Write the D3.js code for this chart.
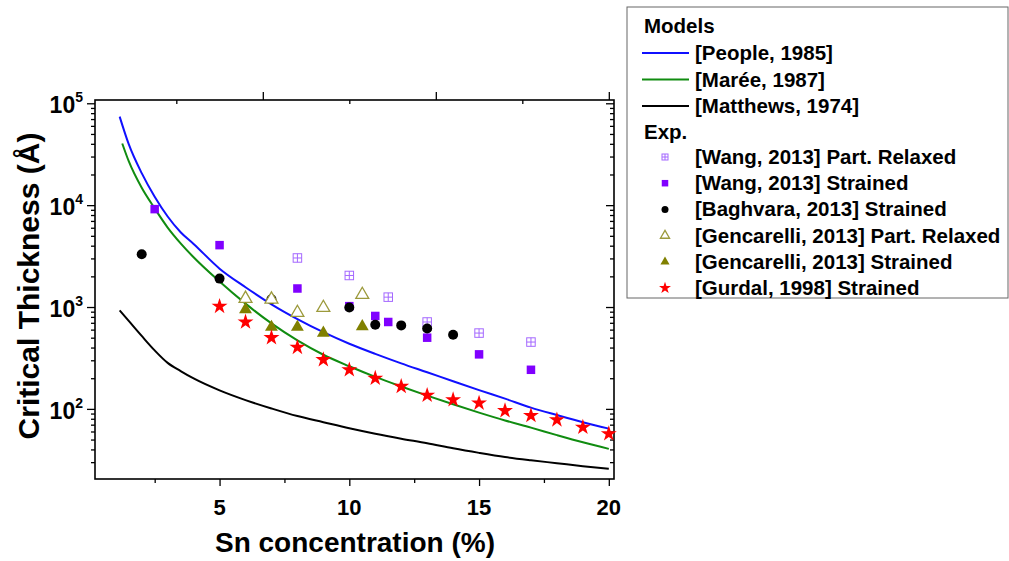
<!DOCTYPE html>
<html lang="en">
<head>
  <meta charset="UTF-8">
  <title>Critical thickness vs Sn</title>
  <script src="https://cdn.jsdelivr.net/npm/d3@7"></script>
</head>
<body style="margin:0; background:#fff;">
<script>
  // model curves
  const xModel = [1.15, 1.5, 2, 2.5, 3, 3.5, 4, 5, 6, 7, 8, 9, 10, 11, 12, 13, 14, 15, 16, 17, 18, 19, 20]
  const xMaree = [1.25, 1.5, 2, 2.5, 3, 3.5, 4, 5, 6, 7, 8, 9, 10, 11, 12, 13, 14, 15, 16, 17, 18, 19, 20]
  const people = [74000, 39700, 20600, 12100, 7740, 5420, 4160, 2380, 1565, 1063, 761, 566, 436, 347, 280, 229, 187, 153, 126, 103, 87, 74, 64]
  const maree = [40300, 27000, 14800, 9300, 6030, 4220, 3080, 1780, 1080, 690, 470, 340, 262, 206, 166, 135, 111, 92, 77, 65.5, 55.3, 47, 40.5]
  const matthews = [925, 730, 520, 375, 283, 235, 199, 152, 122, 101, 85, 74, 64.5, 57, 51, 46, 41, 37, 33.7, 31.3, 29.3, 27.4, 25.8]

  // experimental points
  const wangRelaxX = [8, 10, 11.5, 13, 15, 17]
  const wangRelaxY = [3030, 2040, 1250, 713, 555, 453]
  const wangStrX = [2.5, 5, 8, 10, 11, 11.5, 13, 15, 17]
  const wangStrY = [9140, 4050, 1520, 1020, 817, 713, 500, 343, 242]
  const baghX = [2, 5, 7, 10, 11, 12, 13, 14]
  const baghY = [3300, 1900, 1190, 990, 670, 660, 615, 535]
  const gencRelaxX = [6, 7, 8, 9, 10.5]
  const gencRelaxY = [1210, 1190, 880, 985, 1320]
  const gencStrX = [6, 7, 8, 9, 10.5]
  const gencStrY = [945, 635, 635, 555, 645]
  const gurdalX = [5, 6, 7, 8, 9, 10, 11, 12, 13, 14, 15, 16, 17, 18, 19, 20]
  const gurdalY = [1015, 713, 500, 402, 304, 242, 200, 166, 136, 123, 114, 96, 86, 78, 66, 57]

  const xTicks = [5, 10, 15, 20]
  const xMinor = [2.5, 7.5, 12.5, 17.5]
  const topMajor = [20 / 3, 40 / 3, 20]
  const topMinor = [10 / 3, 10, 50 / 3]
  const yDecades = [2, 3, 4, 5]

  const width = 1009, height = 561
  const font = "'Liberation Sans', Arial, sans-serif"

  const x = d3.scaleLinear().domain([0.2, 20.2]).range([95, 614])
  const y = d3.scaleLog().domain([20.5, 107700]).range([479, 100])

  const svg = d3.select("body").append("svg")
    .attr("width", width).attr("height", height)
    .style("font-family", font)

  // minor log ticks
  const yMinor = []
  for (let e = 1; e <= 5; e++) for (let m = 2; m <= 9; m++) {
    const v = m * Math.pow(10, e)
    if (v >= 20.5 && v <= 107700) yMinor.push(v)
  }
  const yMajor = yDecades.map(e => Math.pow(10, e))

  const addAxis = (axis, tx, ty, values, size) => {
    svg.append("g").attr("transform", `translate(${tx},${ty})`)
      .call(axis.tickValues(values).tickSize(size).tickFormat(""))
      .call(g => g.select(".domain").remove())
  }
  // left axis (outward) and right axis (inward)
  addAxis(d3.axisLeft(y), 95, 0, yMinor, 4)
  addAxis(d3.axisLeft(y), 95, 0, yMajor, 8)
  addAxis(d3.axisLeft(y), 614, 0, yMinor, 4)
  addAxis(d3.axisLeft(y), 614, 0, yMajor, 8)
  // bottom and top
  addAxis(d3.axisBottom(x), 0, 479, xMinor, 4)
  addAxis(d3.axisBottom(x), 0, 479, xTicks, 7)
  addAxis(d3.axisTop(x), 0, 100, topMajor, 8)
  addAxis(d3.axisBottom(x), 0, 100, topMinor, 4)
  svg.selectAll(".tick line").attr("stroke", "#000").attr("stroke-width", 1.3)

  // frame
  svg.append("rect").attr("x", 95).attr("y", 100).attr("width", 519).attr("height", 379)
    .attr("fill", "none").attr("stroke", "#000").attr("stroke-width", 1.6)

  // tick labels
  svg.append("g").selectAll("text").data(xTicks).join("text")
    .attr("x", d => x(d)).attr("y", 515)
    .attr("text-anchor", "middle").attr("font-size", 22).attr("font-weight", "bold")
    .text(d => d)

  const yl = svg.append("g").selectAll("text").data(yDecades).join("text")
    .attr("x", 83).attr("y", d => y(Math.pow(10, d)) + 10)
    .attr("text-anchor", "end").attr("font-size", 23).attr("font-weight", "bold")
  yl.append("tspan").text("10")
  yl.append("tspan").attr("dy", -11).attr("font-size", 14).text(d => d)

  // axis titles
  svg.append("text").attr("x", 355).attr("y", 552).attr("text-anchor", "middle")
    .attr("font-size", 28).attr("font-weight", "bold").text("Sn concentration (%)")
  svg.append("text").attr("transform", "translate(39,286) rotate(-90)").attr("text-anchor", "middle")
    .attr("font-size", 30).attr("font-weight", "bold").text("Critical Thickness (Å)")

  // curves
  const line = d3.line().x(d => x(d[0])).y(d => y(d[1])).curve(d3.curveMonotoneX)
  const models = [
    { xs: xModel, ys: people, color: "#1010ff", name: "[People, 1985]" },
    { xs: xMaree, ys: maree, color: "#108c10", name: "[Marée, 1987]" },
    { xs: xModel, ys: matthews, color: "#000", name: "[Matthews, 1974]" }
  ]
  svg.append("g").selectAll("path").data(models).join("path")
    .attr("d", m => line(m.xs.map((v, i) => [v, m.ys[i]])))
    .attr("fill", "none").attr("stroke", m => m.color).attr("stroke-width", 2)

  // marker drawing
  const relaxColor = "#a468ff", wangColor = "#8000ff", olive = "#808000", olive2 = "#9c9a3c"
  function drawMarker(g, kind, s) {
    if (kind === "wangRelax") {
      const h = s / 2
      g.append("rect").attr("x", -h).attr("y", -h).attr("width", s).attr("height", s)
        .attr("fill", "#fff").attr("stroke", relaxColor).attr("stroke-width", 1)
      g.append("path").attr("d", `M${-h},0H${h}M0,${-h}V${h}`).attr("stroke", relaxColor).attr("stroke-width", 1)
    } else if (kind === "wangStr") {
      g.append("rect").attr("x", -s / 2).attr("y", -s / 2).attr("width", s).attr("height", s).attr("fill", wangColor)
    } else if (kind === "bagh") {
      g.append("circle").attr("r", s / 2).attr("fill", "#000")
    } else if (kind === "gencRelax") {
      g.append("path").attr("d", d3.symbol(d3.symbolTriangle, s * s * 0.5)())
        .attr("fill", "#fff").attr("stroke", olive2).attr("stroke-width", 1.3)
    } else if (kind === "gencStr") {
      g.append("path").attr("d", d3.symbol(d3.symbolTriangle, s * s * 0.5)()).attr("fill", olive)
    } else if (kind === "gurdal") {
      g.append("path").attr("d", d3.symbol(d3.symbolStar, s * s * 0.55)()).attr("fill", "#ff0000")
    }
  }

  const sets = [
    { kind: "wangRelax", xs: wangRelaxX, ys: wangRelaxY, s: 8.5, ls: 6, name: "[Wang, 2013] Part. Relaxed" },
    { kind: "wangStr", xs: wangStrX, ys: wangStrY, s: 8.5, ls: 6.5, name: "[Wang, 2013] Strained" },
    { kind: "bagh", xs: baghX, ys: baghY, s: 10, ls: 7, name: "[Baghvara, 2013] Strained" },
    { kind: "gencRelax", xs: gencRelaxX, ys: gencRelaxY, s: 12, ls: 8.5, name: "[Gencarelli, 2013] Part. Relaxed" },
    { kind: "gencStr", xs: gencStrX, ys: gencStrY, s: 12, ls: 8.5, name: "[Gencarelli, 2013] Strained" },
    { kind: "gurdal", xs: gurdalX, ys: gurdalY, s: 12, ls: 9, name: "[Gurdal, 1998] Strained" }
  ]
  sets.forEach(set => {
    svg.append("g").selectAll("g").data(set.xs.map((v, i) => [v, set.ys[i]])).join("g")
      .attr("transform", d => `translate(${x(d[0])},${y(d[1])})`)
      .each(function () { drawMarker(d3.select(this), set.kind, set.s) })
  })

  // legend
  const lg = svg.append("g")
  lg.append("rect").attr("x", 627).attr("y", 7).attr("width", 381).attr("height", 291)
    .attr("fill", "#fff").attr("stroke", "#666").attr("stroke-width", 1)
  const lfs = 20.5
  lg.append("text").attr("x", 644).attr("y", 33).attr("font-size", lfs).attr("font-weight", "bold").text("Models")
  models.forEach((m, i) => {
    const cy = 53 + i * 26.5
    lg.append("line").attr("x1", 642).attr("x2", 689).attr("y1", cy).attr("y2", cy)
      .attr("stroke", m.color).attr("stroke-width", 2)
    lg.append("text").attr("x", 695).attr("y", cy + 7).attr("font-size", lfs).attr("font-weight", "bold").text(m.name)
  })
  lg.append("text").attr("x", 644).attr("y", 139).attr("font-size", lfs).attr("font-weight", "bold").text("Exp.")
  sets.forEach((set, i) => {
    const cy = 157 + i * 26.2
    const g = lg.append("g").attr("transform", `translate(665,${cy})`)
    drawMarker(g, set.kind, set.ls)
    lg.append("text").attr("x", 695).attr("y", cy + 7).attr("font-size", lfs).attr("font-weight", "bold").text(set.name)
  })
</script>
</body>
</html>
